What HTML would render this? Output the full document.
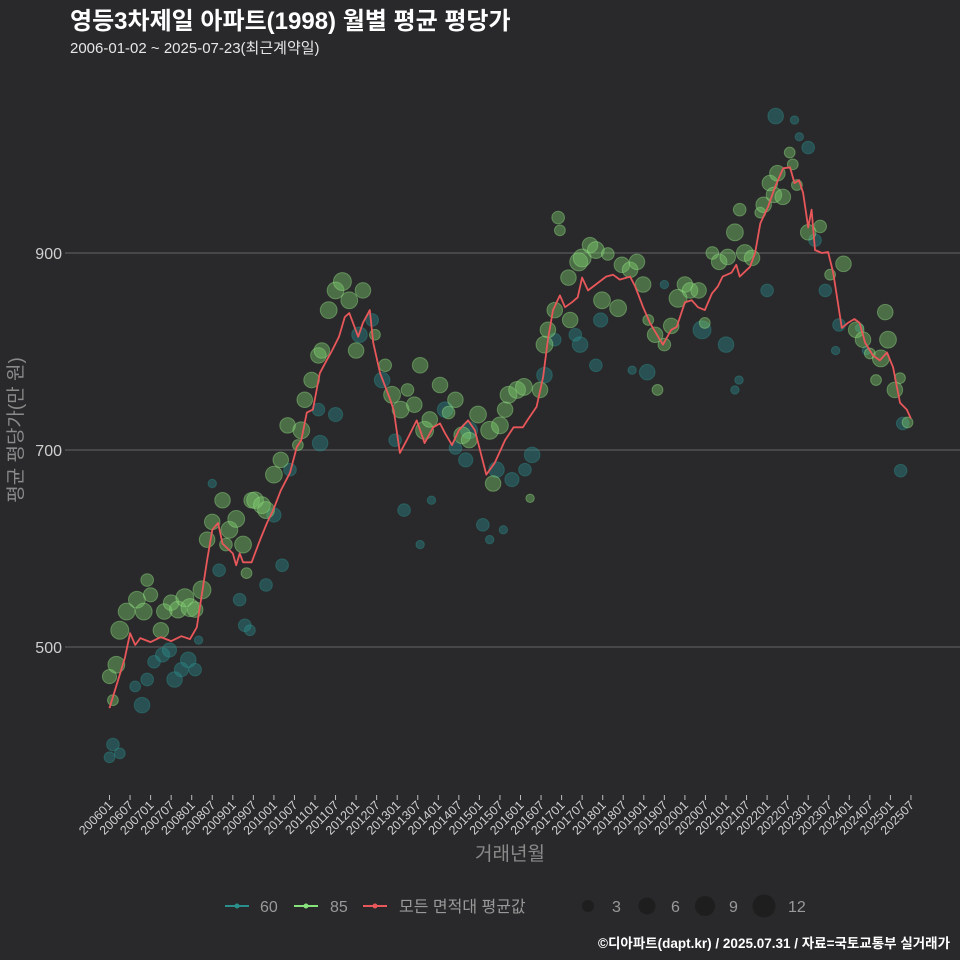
<!DOCTYPE html>
<html><head><meta charset="utf-8">
<style>
html,body{margin:0;padding:0;background:#29292b;}
svg{display:block;font-family:"Liberation Sans","Noto Sans CJK KR",sans-serif;}
</style></head>
<body>
<svg id="chart" width="960" height="960" viewBox="0 0 960 960">
<rect width="960" height="960" fill="#29292b"/>
<text x="70" y="29" fill="#ffffff" font-size="24" font-weight="bold">영등3차제일 아파트(1998) 월별 평균 평당가</text>
<text x="70" y="53" fill="#e6e6e6" font-size="15">2006-01-02 ~ 2025-07-23(최근계약일)</text>
<g id="grid"></g>
<g id="bubbles"></g>
<g id="line"></g>
<g id="xaxis"></g>
<text x="510" y="860" fill="#8a8a8a" font-size="19" text-anchor="middle">거래년월</text>
<text transform="translate(22,430) rotate(-90)" fill="#8a8a8a" font-size="19" text-anchor="middle">평균 평당가(만 원)</text>
<g>
  <g>
    <line x1="225" y1="906" x2="249" y2="906" stroke="#2a8f8c" stroke-width="2"/>
    <circle cx="237" cy="906" r="2.5" fill="#2a8f8c"/>
    <text x="260" y="912" fill="#999" font-size="16">60</text>
  </g>
  <g>
    <line x1="294" y1="906" x2="318" y2="906" stroke="#86e27a" stroke-width="2"/>
    <circle cx="306" cy="906" r="2.5" fill="#86e27a"/>
    <text x="330" y="912" fill="#999" font-size="16">85</text>
  </g>
  <g>
    <line x1="363" y1="906" x2="387" y2="906" stroke="#e8575a" stroke-width="2"/>
    <circle cx="375" cy="906" r="2.5" fill="#e8575a"/>
    <text x="399" y="912" fill="#999" font-size="16">모든 면적대 평균값</text>
  </g>
  <g>
    <circle cx="588" cy="906" r="6" fill="#1e1e1f"/><text x="612" y="912" fill="#999" font-size="16">3</text>
    <circle cx="647" cy="906" r="8.5" fill="#1e1e1f"/><text x="671" y="912" fill="#999" font-size="16">6</text>
    <circle cx="705" cy="906" r="10" fill="#1e1e1f"/><text x="729" y="912" fill="#999" font-size="16">9</text>
    <circle cx="764" cy="906" r="11.5" fill="#1e1e1f"/><text x="788" y="912" fill="#999" font-size="16">12</text>
  </g>
</g>
<text x="950" y="948" fill="#ffffff" font-size="13.5" font-weight="bold" text-anchor="end">©디아파트(dapt.kr) / 2025.07.31 / 자료=국토교통부 실거래가</text>
</svg>
<script>
// Average line: month index (0 = 2006-01) and value
const lineMonths = [0,4.5,6,7.5,9,12,15,18,21,23.5,25.5,28.5,30,31.7,33,36,37,38,39,41.5,44,46,47.8,50,52.7,54.7,56,57.6,59.4,61.4,63.4,65,67,68.7,70,72.6,74,76,77,79,82,83,84.8,86.8,89.7,92,94.5,96.5,98,100,102,104.7,106.7,110,112.5,115.5,118,120.7,122,124.7,126.6,128,129.5,131.5,133,135,136.7,138,139.7,142,145,147,149,152,153.5,155.8,157.8,160.7,161.6,164,165.6,168,170,171.8,173.8,175.9,177.6,179,181.6,183,184,187,188.5,190,192.3,194.3,196.7,198.7,200,201.3,202.5,204,205,206,208,209.8,211.3,213.8,215.6,217.5,219,220.6,222.9,224.9,227,228.8,230.8,232.8,234];
const lineValues = [438,489,514,502,509,505,510,506,511,508,520,588,619,626,605,595,583,595,586,586,609,626,639,659,677,703,710,738,741,778,791,801,815,835,839,815,829,842,809,778,751,740,697,710,730,707,723,727,717,705,720,730,720,675,687,710,723,723,730,744,774,812,842,857,845,850,855,875,862,868,876,878,873,876,866,845,829,812,807,822,825,850,852,845,842,859,866,876,880,888,876,886,900,930,947,967,986,987,971,974,961,926,944,903,900,901,880,824,829,833,829,809,796,791,799,784,748,741,732];
// Bubbles: 85-type (green)
const g85Months = [0,2,1,3,5,8,10,12,11,15,16,18,20,22,23.5,25,27,28.5,30,33,34,35,37,39,40,41.5,42.5,44.5,45.7,48,50,52,55,56,57,59,61,62,64,66,68,70,72,74,77.5,80.5,82.5,85,87,89,90.7,92,93.5,96.5,99,101,103,105,107.6,111,112,114,115.5,116.5,119,121,122.8,125.7,127,128,130,131,131.5,134,134.5,137,138,140.3,142,143.8,145.5,148.5,149.6,152,154,155.8,157.3,159.3,160,162,164,166,168,169.5,172,173.8,176,178,180.5,182.6,184,185.5,187.6,190,191,192.8,194,195,196.6,198.6,199.5,200.7,204,207.5,210.4,214.3,218,220,222,223.8,225.2,226.5,227.3,229.3,230.8,233];
const g85Values = [470,482,446,517,536,548,536,553,568,517,536,545,538,550,540,538,558,609,627,649,604,619,630,604,575,649,649,644,639,675,690,725,705,720,751,771,796,801,842,862,871,852,801,862,817,786,756,741,761,746,786,720,731,766,738,751,715,710,736,720,666,725,741,756,761,764,651,761,807,822,842,936,923,875,832,891,895,908,903,852,899,844,888,883,891,868,832,817,761,807,826,854,868,862,862,829,900,891,896,921,944,900,895,941,949,971,959,981,957,1002,990,969,921,927,878,889,822,812,798,771,793,840,812,761,773,728];
const g85Counts = [4,6,2,7,6,6,6,4,3,5,5,5,6,7,7,5,7,5,5,5,3,6,6,6,2,5,6,6,6,6,5,5,2,6,5,5,5,5,6,6,7,6,5,5,2,3,6,6,3,5,5,7,5,5,3,5,6,5,6,7,5,6,5,6,6,6,1,5,6,5,5,3,2,5,5,7,7,5,6,6,3,6,5,5,5,5,2,5,2,3,5,7,5,5,5,2,3,5,5,6,3,6,5,2,5,5,5,5,5,2,2,2,5,3,2,5,5,5,2,2,6,5,6,5,2,2];
// Bubbles: 60-type (teal)
const t60Months = [0,1,3,7.5,9.5,11,13,15.5,17.5,19,21,23,25,26,30,32,38,39.5,41,45.7,48,50.4,52.7,61,61.5,66,73,76.7,79.6,83.4,86,90.7,94,98,101,104,105,109,111,113,115,117.5,121.3,123.4,127,130,136,137.4,142,143.4,152.6,157,162,173,180,182.6,183.8,192,194.5,200,201.4,204,206,209,212,213,219,221,231.6,231];
const t60Values = [388,401,392,460,441,467,485,492,497,467,477,487,477,507,666,578,548,522,517,563,634,583,680,741,707,736,817,832,771,710,639,604,649,741,702,690,720,624,609,680,619,670,680,695,776,812,817,807,786,832,781,779,868,822,807,761,771,862,1039,1035,1018,1007,913,862,801,827,824,801,727,679];
const t60Counts = [2,3,2,2,5,3,3,4,4,5,4,5,3,1,1,3,3,3,2,3,4,3,3,3,5,4,5,3,5,3,3,1,1,5,3,4,6,3,1,5,1,4,3,5,5,3,3,5,3,4,1,5,1,7,5,1,1,3,5,1,1,3,3,3,1,3,1,1,3,3];
// Axis ticks
const yTicks = [500,700,900];
const xTickLabels = ["200601","200607","200701","200707","200801","200807","200901","200907","201001","201007","201101","201107","201201","201207","201301","201307","201401","201407","201501","201507","201601","201607","201701","201707","201801","201807","201901","201907","202001","202007","202101","202107","202201","202207","202301","202307","202401","202407","202501","202507"];

const NS = "http://www.w3.org/2000/svg";
const xScale = m => 109.5 + m * 3.425;
const yScale = v => 253 + (900 - v) * 0.985;
const rScale = c => 2.9 * Math.sqrt(c) + 1.3;
function mk(tag, attrs, parent) {
  const el = document.createElementNS(NS, tag);
  for (const k in attrs) el.setAttribute(k, attrs[k]);
  parent.appendChild(el);
  return el;
}
const grid = document.getElementById('grid');
yTicks.forEach(v => {
  const l = mk('line', {x1: 65, x2: 960, y1: yScale(v), y2: yScale(v), stroke: '#5a5a5c', 'stroke-width': 1.3}, grid);
  
  
  const t = mk('text', {x: 62, y: yScale(v) + 6, fill: '#cfcfcf', 'font-size': 16, 'text-anchor': 'end'}, grid);
  t.textContent = v;
  
  
});
const xa = document.getElementById('xaxis');
xTickLabels.forEach((lab, i) => {
  const x = xScale(i * 6);
  const tk = mk('line', {x1: x, x2: x, y1: 795, y2: 800, stroke: '#bbb', 'stroke-width': 1}, xa);
  
  
  const t = mk('text', {x: 0, y: 0, fill: '#d0d0d0', 'font-size': 12.5, 'text-anchor': 'end', transform: `translate(${x + 4},${806}) rotate(-45)`}, xa);
  t.textContent = lab;
  
  
});
const bg = document.getElementById('bubbles');
t60Months.forEach((m, i) => {
  const c = mk('circle', {cx: xScale(m), cy: yScale(t60Values[i]), r: rScale(t60Counts[i]), fill: '#2a8a8a', 'fill-opacity': 0.42, stroke: '#2f9b98', 'stroke-opacity': 0.35}, bg);
  
  
});
g85Months.forEach((m, i) => {
  const c = mk('circle', {cx: xScale(m), cy: yScale(g85Values[i]), r: rScale(g85Counts[i]), fill: '#7ed06e', 'fill-opacity': 0.42, stroke: '#9be88a', 'stroke-opacity': 0.4}, bg);
  
  
});
const lg = document.getElementById('line');
const pts = lineMonths.map((m, i) => xScale(m).toFixed(1) + ',' + yScale(lineValues[i]).toFixed(1)).join(' ');
const pl = mk('polyline', {points: pts, fill: 'none', stroke: '#e8575a', 'stroke-width': 1.8, 'stroke-linejoin': 'round'}, lg);


</script>
</body></html>
